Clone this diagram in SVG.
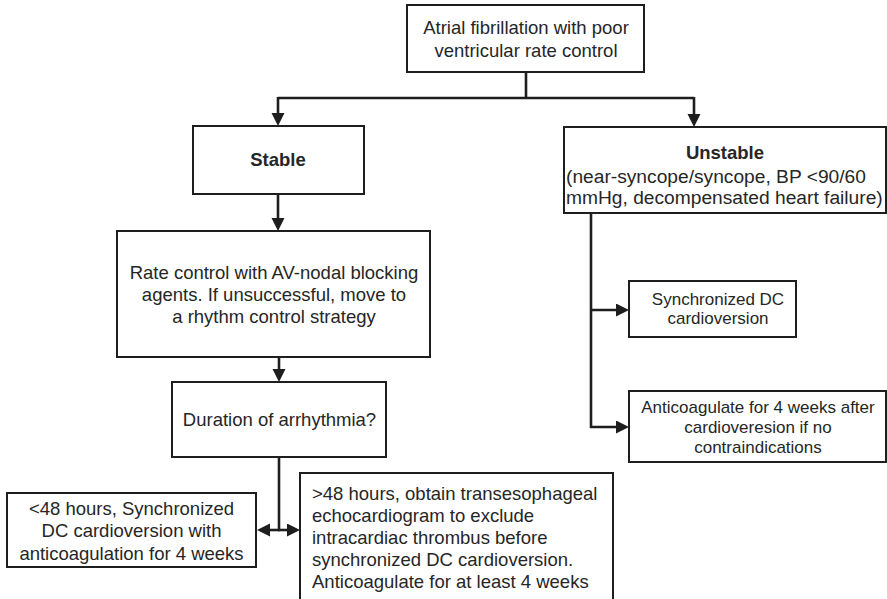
<svg xmlns="http://www.w3.org/2000/svg" width="887" height="599" viewBox="0 0 887 599">
<style>
.box{fill:#fff;stroke:#1e1e1e;stroke-width:2}
.t{font-family:"Liberation Sans",Arial,sans-serif;font-size:18.5px;fill:#262626}
.s{font-size:17px}
.w{font-size:19.2px}
.c{text-anchor:middle}
.b{font-weight:bold}
.ln{fill:none;stroke:#1e1e1e;stroke-width:2.6}
</style>
<defs>
<marker id="ah" markerUnits="userSpaceOnUse" markerWidth="14" markerHeight="14" refX="7" refY="6.5" orient="auto">
<path d="M0,0 L13,6.5 L0,13 z" fill="#1e1e1e"/>
</marker>
</defs>
<rect width="887" height="599" fill="#fff"/>
<g id="connectors">
<path class="ln" d="M526,72 V98"/>
<path class="ln" d="M278,98 H694"/>
<path class="ln" d="M278,97 V120" marker-end="url(#ah)"/>
<path class="ln" d="M694,97 V121" marker-end="url(#ah)"/>
<path class="ln" d="M278,194 V225" marker-end="url(#ah)"/>
<path class="ln" d="M279,357 V376" marker-end="url(#ah)"/>
<path class="ln" d="M279,457 V531"/>
<path class="ln" d="M280,530 H263" marker-end="url(#ah)"/>
<path class="ln" d="M278,530 H294" marker-end="url(#ah)"/>
<path class="ln" d="M591,213 V428"/>
<path class="ln" d="M590,310 H623" marker-end="url(#ah)"/>
<path class="ln" d="M590,427 H623" marker-end="url(#ah)"/>
</g>
<g id="n-start">
<rect class="box" x="407" y="5" width="237" height="67"/>
<text class="t c" x="526" y="34">Atrial fibrillation with poor</text>
<text class="t c" x="526" y="57">ventricular rate control</text>
</g>
<g id="n-stable">
<rect class="box" x="193" y="126" width="171" height="68"/>
<text class="t c b" x="278" y="166">Stable</text>
</g>
<g id="n-unstable">
<rect class="box" x="564" y="127" width="322" height="86"/>
<text class="t c b" x="725" y="159">Unstable</text>
<text class="t w" x="566" y="183">(near-syncope/syncope, BP &lt;90/60</text>
<text class="t w" x="566" y="204">mmHg, decompensated heart failure)</text>
</g>
<g id="n-rate">
<rect class="box" x="117" y="231" width="313" height="126"/>
<text class="t c" x="274" y="279">Rate control with AV-nodal blocking</text>
<text class="t c" x="274" y="301">agents. If unsuccessful, move to</text>
<text class="t c" x="274" y="323">a rhythm control strategy</text>
</g>
<g id="n-duration">
<rect class="box" x="172" y="382" width="214" height="75"/>
<text class="t c" x="279.5" y="426">Duration of arrhythmia?</text>
</g>
<g id="n-lt48">
<rect class="box" x="7" y="493" width="249" height="74"/>
<text class="t c" x="131.5" y="515">&lt;48 hours, Synchronized</text>
<text class="t c" x="131.5" y="537">DC cardioversion with</text>
<text class="t c" x="131.5" y="560">anticoagulation for 4 weeks</text>
</g>
<g id="n-gt48">
<rect class="box" x="300" y="473" width="313" height="140"/>
<text class="t" x="312" y="500">&gt;48 hours, obtain transesophageal</text>
<text class="t" x="312" y="522">echocardiogram to exclude</text>
<text class="t" x="312" y="544">intracardiac thrombus before</text>
<text class="t" x="312" y="566">synchronized DC cardioversion.</text>
<text class="t" x="312" y="588">Anticoagulate for at least 4 weeks</text>
</g>
<g id="n-dc">
<rect class="box" x="629" y="281" width="167" height="56"/>
<text class="t s c" x="718" y="305">Synchronized DC</text>
<text class="t s c" x="718" y="324">cardioversion</text>
</g>
<g id="n-anticoag">
<rect class="box" x="629" y="391" width="257" height="71"/>
<text class="t s c" x="758" y="413">Anticoagulate for 4 weeks after</text>
<text class="t s c" x="758" y="433">cardioveresion if no</text>
<text class="t s c" x="758" y="453">contraindications</text>
</g>
</svg>
